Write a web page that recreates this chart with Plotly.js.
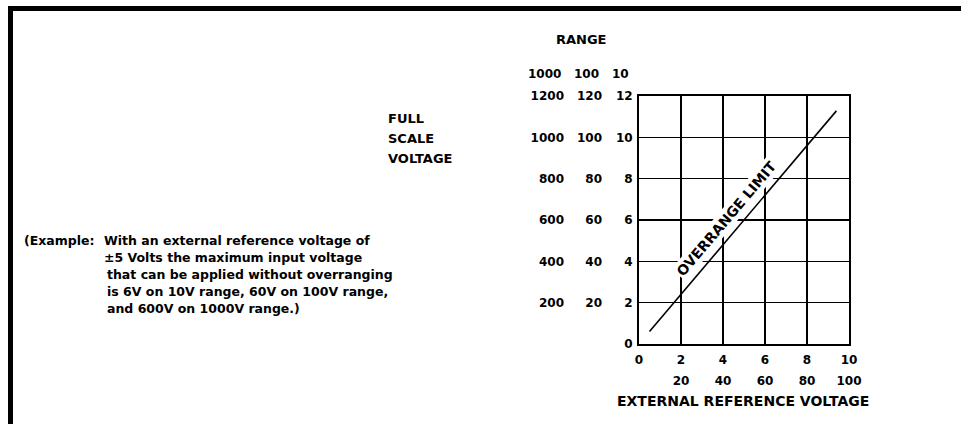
<!DOCTYPE html>
<html><head><meta charset="utf-8">
<script src="https://cdn.plot.ly/plotly-3.0.1.min.js"></script>
<style>html,body{margin:0;padding:0;background:#fff}#chart{width:961px;height:424px}</style>
</head><body><div id="chart"></div>
<script>
// ---- data ----
const refVoltage = [0.5, 9.4];
const overrangeLimit = [0.6, 11.28];
const xTicks10 = [0, 2, 4, 6, 8, 10];
const xTickLabels10 = ['0', '2', '4', '6', '8', '10'];
const xTicks100 = [20, 40, 60, 80, 100];
const xTickLabels100 = ['20', '40', '60', '80', '100'];
const yTicks12 = [0, 2, 4, 6, 8, 10, 12];
const yTickLabels12 = ['0', '2', '4', '6', '8', '10', '12'];
const yTicks120 = [20, 40, 60, 80, 100, 120];
const yTickLabels120 = ['20', '40', '60', '80', '100', '120'];
const yTicks1200 = [200, 400, 600, 800, 1000, 1200];
const yTickLabels1200 = ['200', '400', '600', '800', '1000', '1200'];
const rangeHeader = ['1000', '100', '10'];
const fullScaleLabel = ['FULL', 'SCALE', 'VOLTAGE'];
const exampleLead = '(Example:';
const exampleLines = [
  'With an external reference voltage of',
  '±5 Volts the maximum input voltage',
  'that can be applied without overranging',
  'is 6V on 10V range, 60V on 100V range,',
  'and 600V on 1000V range.)'
];
const lineLabel = 'OVERRANGE LIMIT';
const xTitle = 'EXTERNAL REFERENCE VOLTAGE';
const rangeTitle = 'RANGE';

// ---- layout helpers (pixel -> paper) ----
const W = 961, H = 424;
const px = v => v / W;
const py = v => 1 - v / H;
const FONT = 'DejaVu Sans, sans-serif';
const f = (s, w) => ({family: FONT, size: s, color: '#000', weight: w || 'bold'});

const traces = [
  {x: refVoltage, y: overrangeLimit, xaxis: 'x', yaxis: 'y', mode: 'lines',
   line: {color: '#000', width: 1.6}, hoverinfo: 'skip', showlegend: false},
  {x: refVoltage.map(v => v * 10), y: overrangeLimit.map(v => v * 10), xaxis: 'x2', yaxis: 'y2',
   mode: 'lines', opacity: 0, hoverinfo: 'skip', showlegend: false},
  {x: refVoltage, y: overrangeLimit.map(v => v * 100), xaxis: 'x', yaxis: 'y3',
   mode: 'lines', opacity: 0, hoverinfo: 'skip', showlegend: false}
];

const annotations = [];
annotations.push({xref: 'x', yref: 'y', x: 4.15, y: 6.05, text: lineLabel, showarrow: false,
  textangle: -49.7, font: f(14), bgcolor: '#fff', borderpad: 1});
annotations.push({xref: 'paper', yref: 'paper', x: px(581), y: py(40), text: rangeTitle,
  showarrow: false, font: f(13), xanchor: 'center', yanchor: 'middle'});
const headerRight = [563, 601, 631];
rangeHeader.forEach((t, i) => annotations.push({xref: 'paper', yref: 'paper', x: px(headerRight[i]), y: py(74),
  text: t, showarrow: false, font: f(12), xanchor: 'right', yanchor: 'middle'}));
const fsY = [118, 138, 158];
fullScaleLabel.forEach((t, i) => annotations.push({xref: 'paper', yref: 'paper', x: px(386), y: py(fsY[i]),
  text: t, showarrow: false, font: f(13), xanchor: 'left', yanchor: 'middle'}));
annotations.push({xref: 'paper', yref: 'paper', x: px(22), y: py(240), text: exampleLead,
  showarrow: false, font: f(12.5), xanchor: 'left', yanchor: 'middle'});
const exIndent = [102, 102, 105, 105, 105];
exampleLines.forEach((t, i) => annotations.push({xref: 'paper', yref: 'paper', x: px(exIndent[i]),
  y: py(240 + 17 * i), text: t, showarrow: false, font: f(12.5), xanchor: 'left', yanchor: 'middle'}));
annotations.push({xref: 'paper', yref: 'paper', x: px(743), y: py(401), text: xTitle,
  showarrow: false, font: f(14), xanchor: 'center', yanchor: 'middle'});

const layout = {
  width: W, height: H,
  margin: {l: 0, r: 0, t: 0, b: 0},
  paper_bgcolor: '#fff', plot_bgcolor: '#fff',
  showlegend: false,
  xaxis: {domain: [px(639), px(849)], range: [0, 10], tickvals: xTicks10, ticktext: xTickLabels10,
    showgrid: true, gridcolor: '#000', gridwidth: 1.6, zeroline: false,
    showline: true, linecolor: '#000', linewidth: 2, mirror: true, ticks: '', ticklabelstandoff: 4,
    tickfont: f(12), fixedrange: true},
  xaxis2: {overlaying: 'x', anchor: 'free', position: py(372), side: 'bottom', range: [0, 100],
    tickvals: xTicks100, ticktext: xTickLabels100, showgrid: false, zeroline: false, showline: false,
    ticks: '', tickfont: f(12), fixedrange: true},
  yaxis: {domain: [py(344), py(96)], range: [0, 12], tickvals: yTicks12, ticktext: yTickLabels12,
    showgrid: true, gridcolor: '#000', gridwidth: 1.6, zeroline: false,
    showline: true, linecolor: '#000', linewidth: 2, mirror: true, ticks: '', ticklabelstandoff: 2,
    tickfont: f(12), fixedrange: true},
  yaxis2: {overlaying: 'y', anchor: 'free', position: px(602), side: 'left', range: [0, 120],
    tickvals: yTicks120, ticktext: yTickLabels120, showgrid: false, zeroline: false, showline: false,
    ticks: '', tickfont: f(12), fixedrange: true},
  yaxis3: {overlaying: 'y', anchor: 'free', position: px(564), side: 'left', range: [0, 1200],
    tickvals: yTicks1200, ticktext: yTickLabels1200, showgrid: false, zeroline: false, showline: false,
    ticks: '', tickfont: f(12), fixedrange: true},
  annotations: annotations,
  shapes: [
    {type: 'line', xref: 'paper', yref: 'paper', x0: px(8), x1: 1, y0: py(8.5), y1: py(8.5), line: {color: '#000', width: 5}},
    {type: 'line', xref: 'paper', yref: 'paper', x0: px(10.5), x1: px(10.5), y0: py(6), y1: 0, line: {color: '#000', width: 5}}
  ]
};

Plotly.newPlot('chart', traces, layout, {staticPlot: true, displayModeBar: false});
</script>
</body></html>
